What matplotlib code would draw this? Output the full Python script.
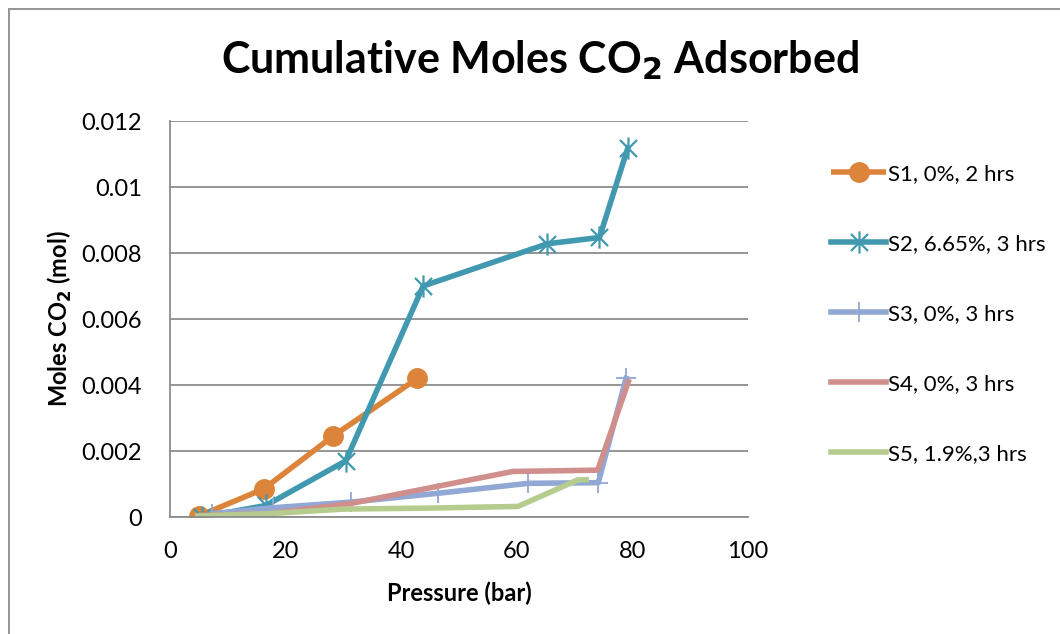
import matplotlib.pyplot as plt
from matplotlib.path import Path
from matplotlib.patches import Rectangle

plt.rcParams['font.family'] = ['Lato', 'DejaVu Sans']

# pressure (bar) and cumulative moles CO2 for each sample
s1_p = [5.0, 16.2, 28.2, 42.8]
s1_mol = [0.00003, 0.00085, 0.00245, 0.0042]

s2_p = [5.5, 16.6, 30.4, 43.8, 65.3, 74.3, 79.2]
s2_mol = [0.0, 0.00035, 0.0017, 0.0070, 0.00828, 0.00847, 0.01118]

s3_p = [7.3, 17.8, 31.3, 46.4, 62.0, 74.1, 78.9]
s3_mol = [0.0001, 0.00028, 0.00045, 0.00072, 0.00102, 0.00104, 0.0042]

s4_p = [5.5, 17.0, 31.0, 59.3, 74.0, 79.3]
s4_mol = [0.00005, 0.0001, 0.0004, 0.00138, 0.00142, 0.0041]

s5_p = [4.8, 17.0, 30.0, 45.0, 60.2, 70.5, 72.0]
s5_mol = [0.00003, 0.0001, 0.00024, 0.00027, 0.00032, 0.00112, 0.00113]

labels = ["S1, 0%, 2 hrs", "S2, 6.65%, 3 hrs", "S3, 0%, 3 hrs",
          "S4, 0%, 3 hrs", "S5, 1.9%,3 hrs"]
colors = ["#DC843A", "#4199B0", "#91A8D4", "#D08E8C", "#B5CC8E"]

# Excel style star: an X with a vertical stroke
star = Path([(-1, -1), (1, 1), (-1, 1), (1, -1), (0, -1.3), (0, 1.3)],
            [Path.MOVETO, Path.LINETO, Path.MOVETO, Path.LINETO,
             Path.MOVETO, Path.LINETO])

fig = plt.figure(figsize=(10.6, 6.34), dpi=100)
ax = fig.add_axes([170 / 1060, 1 - 517 / 634, 578 / 1060, 396 / 634])

lw = 4.0
ax.plot(s1_p, s1_mol, color=colors[0], lw=lw, marker='o', markersize=14,
        label=labels[0], solid_capstyle='butt')
ax.plot(s2_p, s2_mol, color=colors[1], lw=lw, marker=star, markersize=16,
        markeredgewidth=1.6, markerfacecolor='none', label=labels[1])
ax.plot(s3_p, s3_mol, color=colors[2], lw=lw, marker='+', markersize=15,
        markeredgewidth=1.3, label=labels[2])
ax.plot(s4_p, s4_mol, color=colors[3], lw=lw, label=labels[3])
ax.plot(s5_p, s5_mol, color=colors[4], lw=lw, label=labels[4])

ax.set_xlim(0, 100)
ax.set_ylim(0, 0.012)
ax.set_xticks(range(0, 101, 20))
ax.set_yticks([0, 0.002, 0.004, 0.006, 0.008, 0.01, 0.012])
ax.set_yticklabels(["0", "0.002", "0.004", "0.006", "0.008", "0.01", "0.012"])
ax.grid(axis='y', color='#8C8C8C', lw=1.3)
ax.set_axisbelow(True)
for side in ['top', 'right']:
    ax.spines[side].set_visible(False)
for side in ['left', 'bottom']:
    ax.spines[side].set_color('#8C8C8C')
    ax.spines[side].set_linewidth(1.3)
ax.tick_params(length=0, labelsize=17, colors='black')
ax.tick_params(axis='x', pad=17)
ax.tick_params(axis='y', pad=20)

ax.set_xlabel("Pressure (bar)", fontsize=17, fontweight='bold', labelpad=14)
ax.set_ylabel("Moles CO$_\\mathbf{2}$ (mol)", fontsize=17, fontweight='bold')
ax.yaxis.set_label_coords(-0.166, 0.5)

fig.text(540 / 1060, 1 - 60 / 634, "Cumulative Moles CO$_\\mathbf{2}$ Adsorbed",
         fontsize=31, fontweight='bold', ha='center', va='center')

ax.legend(loc='upper left', bbox_to_anchor=(652 / 578, 1 - (155 - 121) / 396),
          frameon=False, fontsize=16, labelspacing=2.25, handlelength=2.5,
          handletextpad=0.05, borderaxespad=0)

# chart frame
fig.patches.append(Rectangle((9 / 1060, -0.1), 1.2, 1 - 9 / 634 + 0.1,
                             transform=fig.transFigure, fill=False,
                             edgecolor='#8C8C8C', lw=1.3))

fig.savefig("out.png", dpi=100)
